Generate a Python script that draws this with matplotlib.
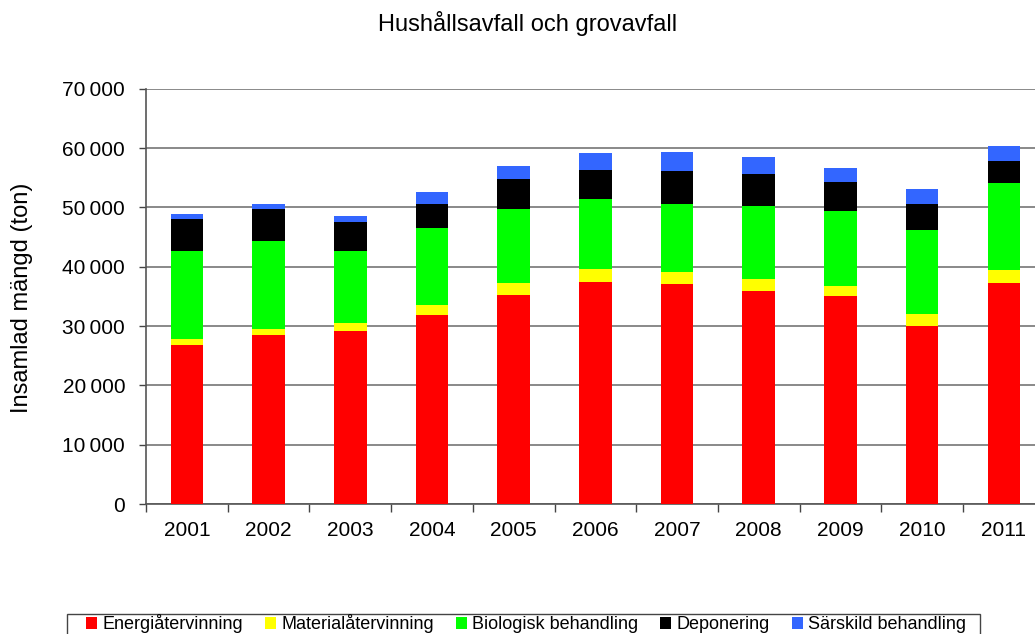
import numpy as np
import matplotlib
matplotlib.use('Agg')
import matplotlib.pyplot as plt
from matplotlib.ticker import FuncFormatter
from matplotlib.patches import Rectangle

plt.rcParams['font.family'] = ['Liberation Sans', 'DejaVu Sans']

# ---- data (ton) ----
years = ['2001', '2002', '2003', '2004', '2005', '2006',
         '2007', '2008', '2009', '2010', '2011']
energi = [26800, 28430, 29210, 31800, 35180, 37370, 37030, 35900, 35010, 29950, 37200]
material = [960, 1120, 1300, 1740, 2020, 2240, 2020, 2020, 1680, 2070, 2240]
biologisk = [14830, 14730, 12080, 12930, 12470, 11750, 11570, 12310, 12640, 14110, 14660]
deponering = [5500, 5490, 4990, 4090, 5160, 4990, 5560, 5390, 4990, 4490, 3760]
sarskild = [790, 850, 960, 2080, 2140, 2810, 3150, 2810, 2360, 2420, 2430]

series = [
    ('Energiåtervinning', energi, '#ff0000'),
    ('Materialåtervinning', material, '#ffff00'),
    ('Biologisk behandling', biologisk, '#00ff00'),
    ('Deponering', deponering, '#000000'),
    ('Särskild behandling', sarskild, '#3366ff'),
]

W, H = 1035, 634
fig = plt.figure(figsize=(W / 100, H / 100), dpi=100)
ax = fig.add_axes([146 / W, 1 - 504 / H, (1044.7 - 146) / W, (504 - 88.7) / H])

x = np.arange(len(years))
bottom = np.zeros(len(years))
for name, vals, col in series:
    ax.bar(x, vals, width=0.4, bottom=bottom, color=col, label=name, zorder=3)
    bottom += np.array(vals)

# axes
ax.set_xlim(-0.5, len(years) - 0.5)
ax.set_ylim(0, 70000)
ax.set_yticks(np.arange(0, 70001, 10000))
ax.yaxis.set_major_formatter(FuncFormatter(
    lambda v, p: f'{int(v):,}'.replace(',', '\u2009')))
ax.grid(axis='y', color='#6a6a6a', linewidth=1.1, zorder=0)

ax.set_xticks(np.arange(-0.5, len(years), 1.0))
ax.set_xticklabels([])
ax.set_xticks(x, minor=True)
ax.set_xticklabels(years, minor=True)
ax.tick_params(axis='x', which='major', length=6, width=1, color='#444444')
ax.tick_params(axis='x', which='minor', length=0, pad=12.5, labelsize=15)
ax.tick_params(axis='y', length=5, width=1, color='#444444', pad=10, labelsize=15)

for s in ['top', 'right']:
    ax.spines[s].set_visible(False)
for s in ['left', 'bottom']:
    ax.spines[s].set_color('#555555')
    ax.spines[s].set_linewidth(1.2)

fig.text(528 / W, 1 - 23 / H, 'Hushållsavfall och grovavfall',
         ha='center', va='center', fontsize=17)
fig.text(22 / W, 1 - 298 / H, 'Insamlad mängd (ton)', rotation=90,
         ha='center', va='center', fontsize=17)

# legend frame drawn separately (runs off the bottom edge like the original)
fig.patches.append(Rectangle((67 / W, -0.05), (980 - 67) / W, 1 - 614 / H + 0.05,
                             transform=fig.transFigure, fill=False,
                             edgecolor='#444444', linewidth=1.0))
leg = fig.legend(loc='upper left',
                 bbox_to_anchor=(84 / W, 1 - 613 / H, (968 - 84) / W, 0.001),
                 mode='expand', ncol=5, fontsize=13, frameon=False,
                 handlelength=0.6, handleheight=0.6,
                 handletextpad=0.3, borderpad=0.1, columnspacing=1.0,
                 borderaxespad=0)

fig.savefig('out.png', dpi=100)
